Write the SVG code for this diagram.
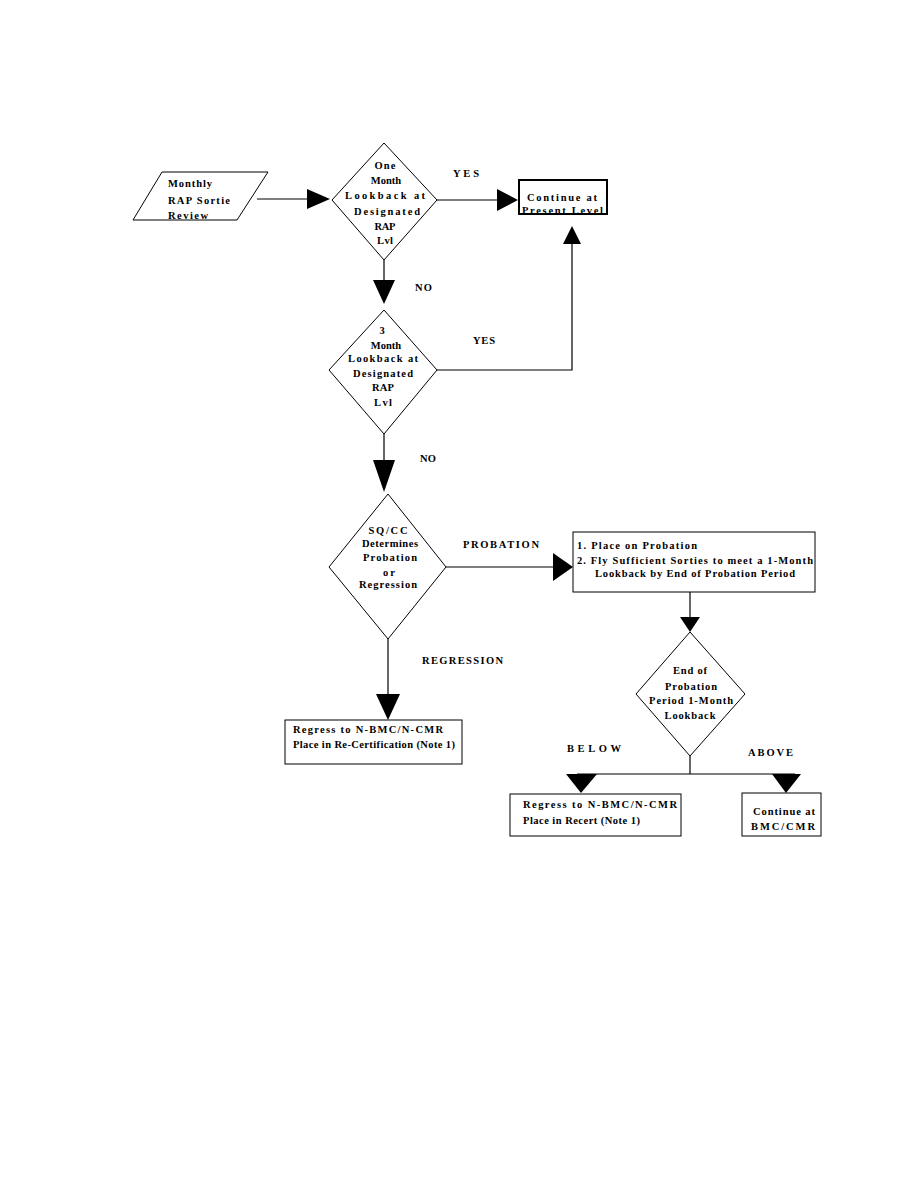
<svg xmlns="http://www.w3.org/2000/svg" width="918" height="1188" viewBox="0 0 918 1188">
<style>
.shape{fill:#fff;stroke:#000;stroke-width:1}
.thick{fill:#fff;stroke:#000;stroke-width:2}
.ln{fill:none;stroke:#000;stroke-width:1.2}
.ah{fill:#000;stroke:none}
text{font-family:"Liberation Serif","Times New Roman",serif;font-size:10.5px;font-weight:bold;fill:#000}
.m{text-anchor:middle}
</style>
<rect width="918" height="1188" fill="#fff"/>
<g id="connectors">
<line class="ln" x1="257" y1="199" x2="310" y2="199"/>
<polygon class="ah" points="307,189 330,199 307,209"/>
<line class="ln" x1="437" y1="200" x2="500" y2="200"/>
<polygon class="ah" points="497,189 518,200 497,211"/>
<polyline class="ln" points="437,370 572,370 572,242"/>
<polygon class="ah" points="563,244 572,226 581,244"/>
<line class="ln" x1="384" y1="260" x2="384" y2="282"/>
<polygon class="ah" points="373,280 384,304 395,280"/>
<line class="ln" x1="384" y1="434" x2="384" y2="462"/>
<polygon class="ah" points="373,460 384,492 395,460"/>
<line class="ln" x1="446" y1="567" x2="555" y2="567"/>
<polygon class="ah" points="553,553 573,567 553,581"/>
<line class="ln" x1="690" y1="592" x2="690" y2="618"/>
<polygon class="ah" points="680,617 690,632 700,617"/>
<line class="ln" x1="690" y1="756" x2="690" y2="774"/>
<line class="ln" x1="577" y1="774" x2="795" y2="774"/>
<polygon class="ah" points="566,774 597,774 581,793"/>
<polygon class="ah" points="772,774 801,774 786,793"/>
<line class="ln" x1="388" y1="639" x2="388" y2="696"/>
<polygon class="ah" points="376,694 400,694 388,720"/>
<text x="453" y="177" textLength="26" lengthAdjust="spacing">YES</text>
<text x="415" y="291" textLength="17" lengthAdjust="spacing">NO</text>
<text x="473" y="344" textLength="22" lengthAdjust="spacing">YES</text>
<text x="420" y="462" textLength="16" lengthAdjust="spacing">NO</text>
<text x="463" y="548" textLength="76" lengthAdjust="spacing">PROBATION</text>
<text x="422" y="664" textLength="81" lengthAdjust="spacing">REGRESSION</text>
<text x="567" y="752" textLength="54" lengthAdjust="spacing">BELOW</text>
<text x="748" y="756" textLength="45" lengthAdjust="spacing">ABOVE</text>
</g>
<g id="start">
<polygon class="shape" points="162,172 268,172 237,220 133,220"/>
<text x="168" y="187" textLength="44" lengthAdjust="spacing">Monthly</text>
<text x="168" y="204" textLength="62" lengthAdjust="spacing">RAP Sortie</text>
<text x="168" y="219" textLength="40" lengthAdjust="spacing">Review</text>
</g>
<g id="d1">
<polygon class="shape" points="384,143 437,200 384,260 332,200"/>
<text class="m" x="385" y="169" textLength="21" lengthAdjust="spacing">One</text>
<text class="m" x="386" y="184">Month</text>
<text class="m" x="385" y="199" textLength="80" lengthAdjust="spacing">Lookback at</text>
<text class="m" x="387" y="215" textLength="66" lengthAdjust="spacing">Designated</text>
<text class="m" x="385" y="230" textLength="21" lengthAdjust="spacing">RAP</text>
<text class="m" x="385" y="244" textLength="16" lengthAdjust="spacing">Lvl</text>
</g>
<g id="continue1">
<rect class="thick" x="519" y="180" width="88" height="34"/>
<text x="527" y="201" textLength="70" lengthAdjust="spacing">Continue at</text>
<text x="522" y="214" textLength="81" lengthAdjust="spacing">Present Level</text>
</g>
<g id="d2">
<polygon class="shape" points="384,310 437,370 384,434 329,370"/>
<text class="m" x="382" y="334">3</text>
<text class="m" x="386" y="349">Month</text>
<text class="m" x="383" y="362" textLength="70" lengthAdjust="spacing">Lookback at</text>
<text class="m" x="383" y="377" textLength="60" lengthAdjust="spacing">Designated</text>
<text class="m" x="383" y="391" textLength="22" lengthAdjust="spacing">RAP</text>
<text class="m" x="383" y="406" textLength="18" lengthAdjust="spacing">Lvl</text>
</g>
<g id="d3">
<polygon class="shape" points="388,494 446,567 388,639 329,567"/>
<text class="m" x="388" y="534" textLength="39" lengthAdjust="spacing">SQ/CC</text>
<text class="m" x="390" y="547" textLength="56" lengthAdjust="spacing">Determines</text>
<text class="m" x="390" y="561" textLength="54" lengthAdjust="spacing">Probation</text>
<text class="m" x="389" y="576" textLength="12" lengthAdjust="spacing">or</text>
<text class="m" x="388" y="588" textLength="58" lengthAdjust="spacing">Regression</text>
</g>
<g id="probation">
<rect class="shape" x="573" y="532" width="242" height="60"/>
<text x="577" y="549" textLength="120" lengthAdjust="spacing">1.  Place on Probation</text>
<text x="577" y="564" textLength="236" lengthAdjust="spacing">2.  Fly Sufficient Sorties to meet a 1-Month</text>
<text x="595" y="577" textLength="200" lengthAdjust="spacing">Lookback by End of Probation Period</text>
</g>
<g id="d4">
<polygon class="shape" points="690,632 745,694 690,756 636,694"/>
<text class="m" x="690" y="674" textLength="34" lengthAdjust="spacing">End of</text>
<text class="m" x="691" y="690" textLength="52" lengthAdjust="spacing">Probation</text>
<text class="m" x="691" y="704" textLength="84" lengthAdjust="spacing">Period 1-Month</text>
<text class="m" x="690" y="719" textLength="51" lengthAdjust="spacing">Lookback</text>
</g>
<g id="regress1">
<rect class="shape" x="285" y="720" width="177" height="44"/>
<text x="293" y="733" textLength="150" lengthAdjust="spacing">Regress to N-BMC/N-CMR</text>
<text x="293" y="748" textLength="162" lengthAdjust="spacing">Place in Re-Certification (Note 1)</text>
</g>
<g id="regress2">
<rect class="shape" x="510" y="794" width="171" height="42"/>
<text x="523" y="808" textLength="154" lengthAdjust="spacing">Regress to N-BMC/N-CMR</text>
<text x="523" y="824" textLength="117" lengthAdjust="spacing">Place in Recert (Note 1)</text>
</g>
<g id="continue2">
<rect class="shape" x="742" y="793" width="79" height="43"/>
<text x="753" y="815" textLength="62" lengthAdjust="spacing">Continue at</text>
<text x="751" y="830" textLength="64" lengthAdjust="spacing">BMC/CMR</text>
</g>
</svg>
